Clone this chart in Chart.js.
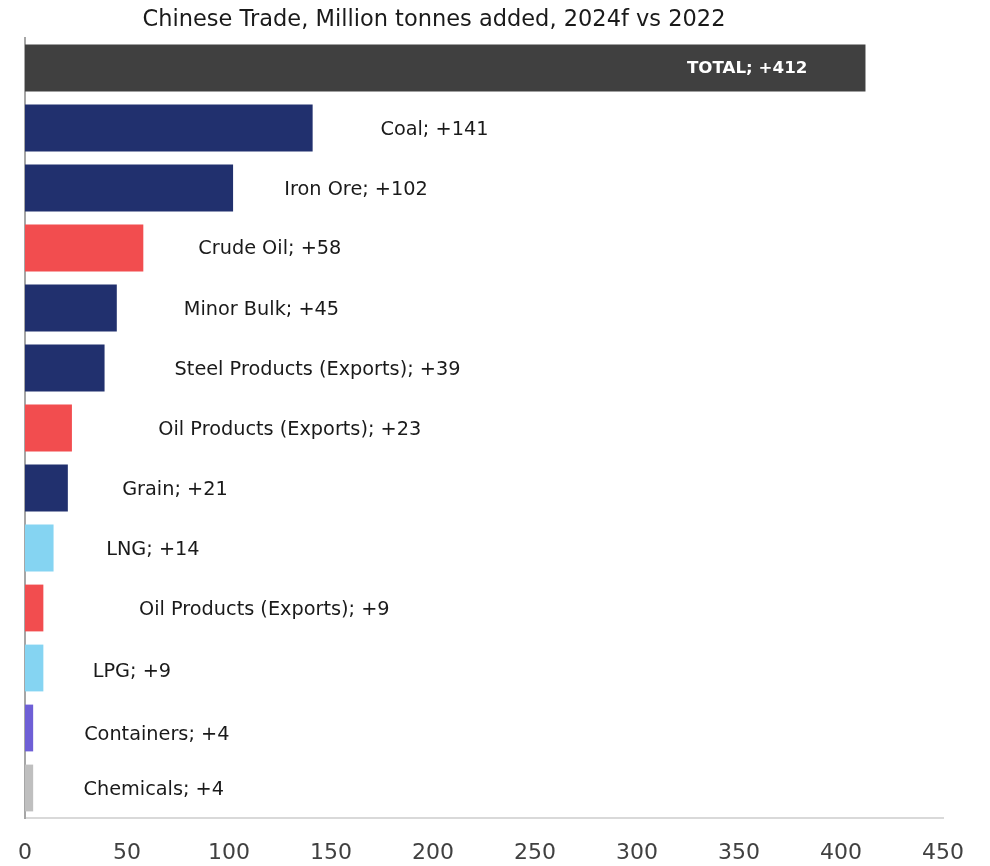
<!DOCTYPE html>
<html>
<head>
<meta charset="utf-8">
<script src="https://cdn.jsdelivr.net/npm/chart.js@4.4.1/dist/chart.umd.min.js"></script>
<style>
  html, body { margin: 0; padding: 0; background: #ffffff; }
  #wrap { width: 990px; height: 866px; position: relative; }
</style>
</head>
<body>
<div id="wrap"><canvas id="chart" width="990" height="866"></canvas></div>
<script>
// Million tonnes added to Chinese seaborne trade, 2024f vs 2022
const categories = [
  'TOTAL', 'Coal', 'Iron Ore', 'Crude Oil', 'Minor Bulk',
  'Steel Products (Exports)', 'Oil Products (Exports)', 'Grain', 'LNG',
  'Oil Products (Exports)', 'LPG', 'Containers', 'Chemicals'
];
const addedTonnes = [412, 141, 102, 58, 45, 39, 23, 21, 14, 9, 9, 4, 4];
const xTicks = [0, 50, 100, 150, 200, 250, 300, 350, 400, 450];

// Bar fill per category (dry bulk, tankers, gas, boxes, chemicals)
const barColors = [
  '#404040', '#21306e', '#21306e', '#f24d4f', '#21306e',
  '#21306e', '#f24d4f', '#21306e', '#85d4f2',
  '#f24d4f', '#85d4f2', '#6e5fd6', '#bfbfbf'
];

// Where each label is centred along the value axis, and a small vertical nudge in px
const labelCentre = [354, 200.7, 162.3, 120, 115.9, 143.4, 129.8, 73.5, 62.7, 117.3, 52.4, 64.6, 63.1];
const labelNudge = [1, 2, 2, 1, 2, 2, 2, 2, 2, 2, 4, 7, 2];

const FONT = '"DejaVu Sans", "Noto Sans", sans-serif';

const barLabels = {
  id: 'barLabels',
  afterDatasetsDraw(chart) {
    const { ctx, scales } = chart;
    const meta = chart.getDatasetMeta(0);
    ctx.save();
    ctx.textAlign = 'center';
    ctx.textBaseline = 'middle';
    meta.data.forEach((bar, i) => {
      const text = categories[i] + '; +' + addedTonnes[i];
      const x = scales.x.getPixelForValue(labelCentre[i]);
      const y = bar.y + labelNudge[i];
      if (i === 0) {
        ctx.font = 'bold 16.7px ' + FONT;
        ctx.fillStyle = '#ffffff';
      } else {
        ctx.font = '19.3px ' + FONT;
        ctx.fillStyle = '#1a1a1a';
      }
      ctx.fillText(text, x, y);
    });
    ctx.restore();
  }
};

const titleText = {
  id: 'titleText',
  afterDraw(chart) {
    const { ctx } = chart;
    ctx.save();
    ctx.font = '22.5px ' + FONT;
    ctx.fillStyle = '#1a1a1a';
    ctx.textAlign = 'center';
    ctx.textBaseline = 'middle';
    ctx.fillText('Chinese Trade, Million tonnes added, 2024f vs 2022', 434, 20);
    ctx.restore();
  }
};

new Chart(document.getElementById('chart'), {
  type: 'bar',
  data: {
    labels: categories,
    datasets: [{
      data: addedTonnes,
      backgroundColor: barColors,
      borderWidth: 0,
      categoryPercentage: 1,
      barPercentage: 0.78
    }]
  },
  options: {
    indexAxis: 'y',
    responsive: false,
    animation: false,
    devicePixelRatio: 1,
    layout: { padding: { left: 25, right: 47, top: 38, bottom: 0 } },
    plugins: {
      legend: { display: false },
      tooltip: { enabled: false },
      title: { display: false }
    },
    scales: {
      x: {
        min: 0,
        max: 450,
        afterBuildTicks(scale) {
          scale.ticks = xTicks.map(v => ({ value: v }));
        },
        afterFit(scale) {
          scale.height = 48;
          scale.paddingLeft = 0;
          scale.paddingRight = 0;
        },
        grid: { display: false, drawTicks: false },
        border: { display: true, color: '#d9d9d9', width: 2 },
        ticks: {
          font: { family: FONT, size: 22 },
          color: '#404040',
          padding: 22
        }
      },
      y: {
        afterFit(scale) {
          scale.width = 0;
          scale.paddingTop = 0;
          scale.paddingBottom = 0;
        },
        grid: { display: false, drawTicks: false },
        border: { display: true, color: '#a6a6a6', width: 2 },
        ticks: { display: false }
      }
    }
  },
  plugins: [barLabels, titleText]
});
</script>
</body>
</html>
